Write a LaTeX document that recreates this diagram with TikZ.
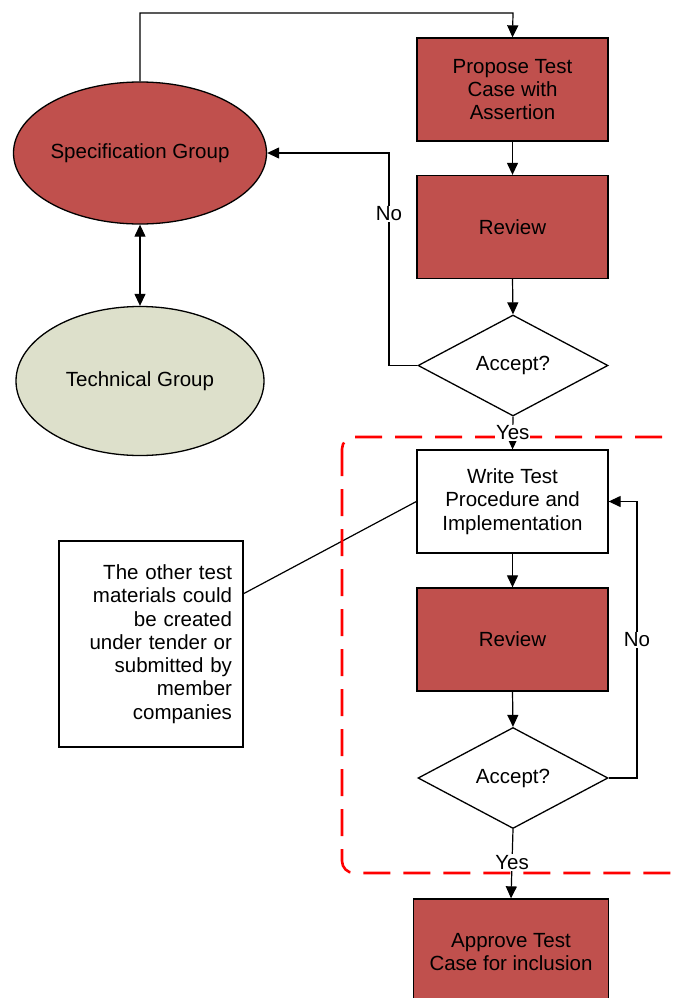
\documentclass[tikz,border=0pt]{standalone}
\usepackage{fontspec}
\setmainfont{Liberation Sans}
\usetikzlibrary{shapes.geometric,arrows.meta,calc}
\definecolor{boxred}{RGB}{192,80,77}
\definecolor{techfill}{RGB}{221,224,203}
\begin{document}
\begin{tikzpicture}[x=1pt,y=-1pt,
  every node/.style={font=\fontsize{20.5}{23.3}\selectfont},
  line/.style={black,line width=1.2pt},
  arr/.style={line,-{Triangle[length=12pt,width=11pt]}},
  dblarr/.style={line,{Triangle[length=12pt,width=11pt]}-{Triangle[length=12pt,width=11pt]}},
  stepbox/.style={draw=black,line width=1.3pt,rectangle,minimum width=191pt,minimum height=103pt,inner sep=0pt,align=center},
  redbox/.style={stepbox,fill=boxred},
  whitebox/.style={stepbox,fill=white},
  decision/.style={draw=black,line width=1.3pt,diamond,aspect=2,minimum width=190pt,minimum height=101pt,inner sep=0pt,fill=white},
  lbl/.style={fill=white,inner sep=1pt}
]
\useasboundingbox (0,0) rectangle (673,998);
\fill[white] (0,0) rectangle (673,998);

% nodes
\node[redbox] (propose) at (512.5,89.5) {Propose Test\\Case with\\Assertion};
\node[redbox] (review1) at (512.5,227) {Review};
\node[decision] (acc1) at (513,365.5) {Accept?};
\node[draw=black,line width=1.3pt,ellipse,fill=boxred,minimum width=242pt,minimum height=142pt,inner sep=0pt] (spec) at (140,153) {Specification Group};
\node[draw=black,line width=1.3pt,ellipse,fill=techfill,minimum width=248pt,minimum height=149pt,inner sep=0pt] (tech) at (140,381) {Technical Group};
\node[whitebox] (write) at (512.5,501.5) {Write Test\\Procedure and\\Implementation};
\node[redbox] (review2) at (512.5,639.5) {Review};
\node[decision] (acc2) at (513,778) {Accept?};
\node[redbox,minimum width=195pt,minimum height=106pt] (approve) at (511,952) {Approve Test\\Case for inclusion};
\node[draw=black,line width=1.3pt,rectangle,fill=white,text width=162pt,inner xsep=11pt,inner ysep=0pt,minimum height=206pt,align=right] (note) at (151,644)
  {The other test\\materials could\\be created\\under tender or\\submitted by\\member\\companies};

% coordinates
\coordinate (topc) at (513,13);
\coordinate (nox) at (389,214);
\coordinate (noy) at (637,640);
\coordinate (notep) at ($(note.north east)!0.257!(note.south east)$);

% connectors
\draw[arr] (spec.north) |- (topc) -- (propose.north);
\draw[arr] (propose.south) -- (review1.north);
\draw[arr] (review1.south) -- (acc1.north);
\draw[arr] (acc1.west) -| (nox) |- (spec.east);
\node[lbl] at (nox) {No};
\draw[dblarr] (spec.south) -- (tech.north);
\draw[arr] (write.south) -- (review2.north);
\draw[arr] (review2.south) -- (acc2.north);
\draw[arr] (acc2.east) -| (noy) |- (write.east);
\node[lbl] at (noy) {No};
\draw[line] (notep) -- (write.west);

% dashed boundary
\draw[red,line width=2.6pt,dash pattern=on 27pt off 13pt,rounded corners=12pt] (342,437) rectangle (700,873);

% yes connectors
\draw[arr] (acc1.south) -- node[lbl,pos=0.5] {Yes} (write.north);
\draw[arr] (acc2.south) -- node[lbl,pos=0.48] {Yes} (approve.north);
\end{tikzpicture}
\end{document}
